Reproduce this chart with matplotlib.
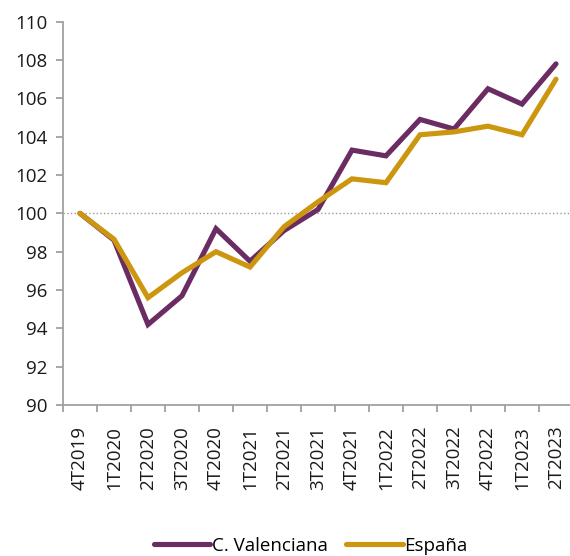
import matplotlib.pyplot as plt
import numpy as np

quarters = ["4T2019", "1T2020", "2T2020", "3T2020", "4T2020", "1T2021",
            "2T2021", "3T2021", "4T2021", "1T2022", "2T2022", "3T2022",
            "4T2022", "1T2023", "2T2023"]
valenciana = [100.0, 98.6, 94.2, 95.7, 99.2, 97.5, 99.1, 100.2,
              103.3, 103.0, 104.9, 104.4, 106.5, 105.7, 107.8]
espana = [100.0, 98.65, 95.6, 96.9, 98.0, 97.2, 99.3, 100.6,
          101.8, 101.6, 104.1, 104.25, 104.55, 104.1, 107.0]

plt.rcParams['font.family'] = ['Open Sans', 'DejaVu Sans']

fig = plt.figure(figsize=(5.7, 5.56), dpi=100)
ax = fig.add_axes([63 / 570, 1 - 405 / 556, 510 / 570, 383.3 / 556])

x = np.arange(len(quarters))
ax.axhline(100, color='#9a9a9a', lw=1, ls=':', zorder=1)
ax.plot(x, valenciana, color='#6a2c63', lw=3.7, solid_capstyle='round',
        solid_joinstyle='miter', label='C. Valenciana', zorder=3)
ax.plot(x, espana, color='#cc960e', lw=3.7, solid_capstyle='round',
        solid_joinstyle='miter', label='España', zorder=4)

ax.set_xlim(-0.5, len(quarters) - 0.5)
ax.set_ylim(90, 110)
ax.set_yticks(np.arange(90, 111, 2))
ax.set_xticks(x)
ax.set_xticklabels(quarters, rotation=90)
ax.set_xticks(np.arange(-0.5, len(quarters), 1), minor=True)

ax.tick_params(axis='x', which='major', length=0, pad=15, labelsize=13.5,
               colors='#1a1a1a')
ax.tick_params(axis='x', which='minor', length=5, width=1.3, color='#a0a0a0')
ax.tick_params(axis='y', length=5, width=1.3, color='#a0a0a0', pad=6,
               labelsize=13.5, labelcolor='#1a1a1a')

for s in ['top', 'right']:
    ax.spines[s].set_visible(False)
for s in ['left', 'bottom']:
    ax.spines[s].set_color('#a0a0a0')
    ax.spines[s].set_linewidth(1.3)

fig.legend(loc='center', bbox_to_anchor=(0.545, 0.018), ncol=2,
           frameon=False, fontsize=13.5, handlelength=3.0,
           handletextpad=0.1, columnspacing=1.0)

plt.savefig('out.png', dpi=100)
